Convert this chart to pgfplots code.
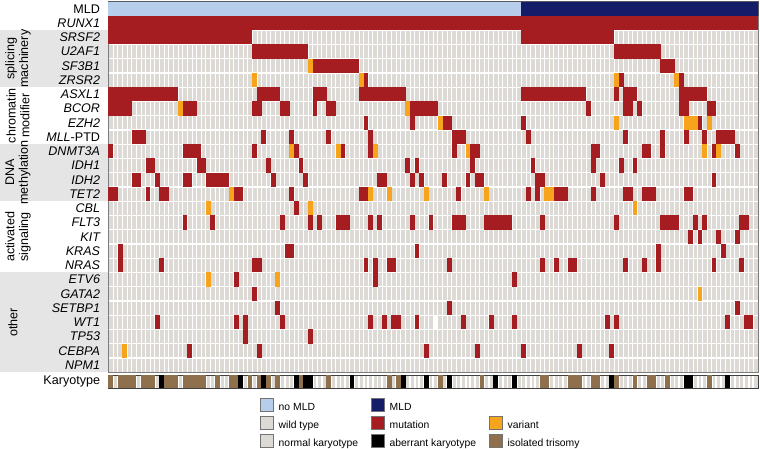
\documentclass[border=0pt]{standalone}
\usepackage{fontspec}
\setmainfont{Liberation Sans}
\usepackage{pgfplots}
\usepackage{pgfplotstable}
\pgfplotsset{compat=1.18}

\definecolor{wt}{RGB}{221,218,214}
\definecolor{mut}{RGB}{165,28,33}
\definecolor{var}{RGB}{247,163,28}
\definecolor{nomld}{RGB}{183,205,236}
\definecolor{mld}{RGB}{20,28,105}
\definecolor{tri}{RGB}{143,112,77}
\definecolor{band}{RGB}{229,229,229}
\definecolor{frame}{RGB}{125,125,125}

\newcommand\lab{\fontsize{12.6}{14}\selectfont}

% one mark per run of cells; \runlen = number of cells, \runh = half row height
\pgfdeclareplotmark{run}{%
  \pgfpathrectangle{\pgfpoint{-\runlen*2.3196bp-0.1bp}{-\runh}}{\pgfpoint{\runlen*4.6393bp+0.2bp}{2*\runh}}%
  \pgfusepathqfill}

\pgfplotsset{
  cells/.style={only marks, mark=run, forget plot, scatter,
    scatter/@pre marker code/.code={\scope}, scatter/@post marker code/.code={\endscope},
    visualization depends on={\thisrow{e}-\thisrow{s}+1 \as \runlen}},
  gridrow/.style={width=649.5bp, scale only axis, xmin=-0.5, xmax=139.5,
    xtick={0.5,1.5,...,138.5}, xticklabels={}, xmajorgrids,
    x grid style={white, line width=0.9bp}, axis on top,
    major tick length=0pt, minor tick length=0pt,
    axis line style={draw=frame, line width=0.7bp},
    yticklabel style={anchor=east, inner sep=0pt, xshift=-8.3bp, font=\lab}},
}

% columns 0-88 no MLD, 89-139 MLD ; rows: gene order from RUNX1 (0) to NPM1 (24)
\pgfplotstableread{
r s e
0 0 88
}\nomldruns
\pgfplotstableread{
r s e
0 89 139
}\mldruns

\pgfplotstableread{
r s e
0 0 139
1 0 30
1 89 108
2 31 42
2 109 118
3 44 53
3 119 121
4 55 55
4 110 110
4 123 123
5 0 14
5 32 36
5 44 46
5 54 63
5 89 102
5 109 109
5 111 113
5 123 128
6 0 4
6 16 18
6 31 32
6 37 38
6 44 44
6 47 48
6 65 70
6 103 103
6 111 112
6 114 114
6 123 124
6 129 130
7 55 55
7 65 65
7 72 73
7 89 89
7 127 127
8 5 7
8 33 33
8 39 39
8 47 47
8 56 56
8 74 76
8 90 90
8 111 111
8 119 119
8 124 124
8 128 128
8 131 134
9 0 0
9 16 19
9 31 31
9 40 40
9 50 50
9 56 56
9 74 74
9 78 79
9 104 105
9 115 116
9 119 119
9 130 130
9 135 135
10 8 9
10 19 20
10 34 34
10 41 41
10 64 64
10 66 66
10 78 78
10 91 91
10 104 104
10 110 110
10 113 113
11 5 6
11 10 10
11 16 17
11 21 25
11 35 35
11 42 42
11 58 59
11 65 65
11 67 67
11 72 72
11 77 77
11 79 80
11 92 93
11 106 106
11 130 130
12 0 1
12 8 8
12 11 12
12 27 28
12 39 39
12 54 55
12 75 75
12 90 90
12 92 92
12 96 98
12 104 104
12 111 112
12 115 117
12 124 125
13 40 40
14 16 16
14 22 22
14 37 37
14 43 43
14 45 45
14 49 51
14 56 56
14 58 58
14 65 65
14 69 69
14 74 76
14 81 86
14 93 93
14 109 109
14 119 122
14 126 126
14 128 128
14 136 137
15 125 125
15 127 127
15 131 131
15 135 135
16 2 2
16 38 39
16 66 66
16 118 118
16 132 132
17 2 2
17 11 11
17 31 32
17 55 55
17 57 57
17 60 61
17 73 73
17 93 93
17 96 96
17 99 100
17 111 111
17 115 115
17 118 118
17 130 130
17 136 136
18 27 27
18 57 57
18 87 87
19 31 31
20 36 36
20 73 73
20 135 135
21 10 10
21 27 27
21 29 29
21 37 37
21 56 56
21 59 59
21 61 62
21 66 66
21 76 76
21 82 82
21 87 87
21 107 107
21 109 109
21 133 133
21 137 138
22 29 29
22 43 43
23 17 17
23 32 32
23 68 68
23 79 79
23 89 89
23 101 101
23 108 108
}\mutation

\pgfplotstableread{
r s e
3 43 43
4 31 31
4 54 54
4 109 109
4 122 122
6 15 15
6 64 64
7 71 71
7 109 109
7 124 126
7 129 129
9 39 39
9 49 49
9 57 57
9 77 77
9 128 128
9 131 131
12 26 26
12 56 56
12 60 60
12 68 68
12 81 81
12 94 95
13 21 21
13 43 43
13 113 113
18 21 21
18 36 36
19 127 127
23 3 3
}\variant

\pgfplotstableread{
r s e
21 70 70
}\missing

% karyotype: isolated trisomy and aberrant karyotype
\pgfplotstableread{
r s e
0 0 0
0 2 5
0 7 9
0 12 14
0 16 20
0 23 23
0 26 27
0 30 30
0 32 32
0 34 34
0 36 36
0 41 41
0 47 47
0 60 60
0 62 62
0 71 71
0 80 80
0 93 94
0 99 101
0 104 105
0 109 109
0 113 113
0 116 117
0 120 120
0 129 129
}\trisomy

\pgfplotstableread{
r s e
0 11 11
0 28 28
0 33 33
0 40 40
0 42 43
0 52 52
0 63 63
0 68 68
0 73 73
0 83 83
0 87 87
0 108 108
0 124 125
0 133 133
}\aberrant

\begin{document}
\begin{tikzpicture}
\useasboundingbox (0,0) rectangle (760bp,-449bp);

% shaded gene groups
\fill[band] (0.5bp,-30.15bp) rectangle (108.5bp,-87.15bp);
\fill[band] (0.5bp,-144.15bp) rectangle (108.5bp,-201.15bp);
\fill[band] (0.5bp,-272.4bp) rectangle (108.5bp,-372.15bp);

\begin{axis}[gridrow, name=top, at={(108.5bp,-1.7bp)}, anchor=north west,
  height=14.2bp, ymin=-0.5, ymax=0.5, ytick={0}, yticklabels={MLD},
  axis line style={draw=black!65, line width=0.8bp}]
  \def\runh{7.2bp}
  \addplot[cells, color=nomld] table[x expr={(\thisrow{s}+\thisrow{e})/2}, y=r] {\nomldruns};
  \addplot[cells, color=mld] table[x expr={(\thisrow{s}+\thisrow{e})/2}, y=r] {\mldruns};
\end{axis}

\begin{axis}[gridrow, name=genes, at={(108.5bp,-15.9bp)}, anchor=north west,
  height=356.25bp, ymin=-0.5, ymax=24.5, y dir=reverse,
  axis background/.style={fill=wt},
  minor ytick={0.5,1.5,...,23.5}, yminorgrids,
  y grid style={white, line width=1.3bp},
  ytick={0,...,24},
  yticklabel style={font=\lab\itshape},
  yticklabels={RUNX1,SRSF2,U2AF1,SF3B1,ZRSR2,ASXL1,BCOR,EZH2,MLL{\upshape-PTD},
    DNMT3A,IDH1,IDH2,TET2,CBL,FLT3,KIT,KRAS,NRAS,ETV6,GATA2,SETBP1,WT1,TP53,CEBPA,NPM1}]
  \def\runh{7.2bp}
  \addplot[cells, color=mut] table[x expr={(\thisrow{s}+\thisrow{e})/2}, y=r] {\mutation};
  \addplot[cells, color=var] table[x expr={(\thisrow{s}+\thisrow{e})/2}, y=r] {\variant};
  \addplot[cells, color=white] table[x expr={(\thisrow{s}+\thisrow{e})/2}, y=r] {\missing};
\end{axis}

\begin{axis}[gridrow, name=karyo, at={(108.5bp,-375bp)}, anchor=north west,
  height=13.3bp, ymin=-0.5, ymax=0.5, ytick={0}, yticklabels={Karyotype},
  axis background/.style={fill=wt},
  x grid style={white, line width=1.8bp},
  axis line style={draw=black!75, line width=1bp},
  legend columns=3, legend cell align=left,
  legend image code/.code={\draw[#1, draw=black!55, line width=0.5bp] (0bp,-6.3bp) rectangle (13bp,6.3bp);},
  legend style={at={(0.2333,-0.74)}, anchor=north west, draw=none, fill=none,
    inner sep=0pt, font=\fontsize{10.4}{12}\selectfont, row sep=3.3bp,
    nodes={inner sep=1bp},
    /tikz/every odd column/.append style={column sep=4bp},
    /tikz/every even column/.append style={column sep=12bp, nodes={yshift=2.8bp}}}]
  \def\runh{6.7bp}
  \addplot[cells, color=tri] table[x expr={(\thisrow{s}+\thisrow{e})/2}, y=r] {\trisomy};
  \addplot[cells, color=black] table[x expr={(\thisrow{s}+\thisrow{e})/2}, y=r] {\aberrant};
  \addlegendimage{fill=nomld}\addlegendentry{no MLD}
  \addlegendimage{fill=mld}\addlegendentry{MLD}
  \addlegendimage{empty legend}\addlegendentry{}
  \addlegendimage{fill=wt}\addlegendentry{wild type}
  \addlegendimage{fill=mut}\addlegendentry{mutation}
  \addlegendimage{fill=var}\addlegendentry{variant}
  \addlegendimage{fill=wt}\addlegendentry{normal karyotype}
  \addlegendimage{fill=black}\addlegendentry{aberrant karyotype}
  \addlegendimage{fill=tri}\addlegendentry{isolated trisomy}
\end{axis}

% group names
\node[rotate=90, align=center, font=\lab] at (18bp,-58.65bp) {splicing\\machinery};
\node[rotate=90, align=center, font=\lab] at (18bp,-115.65bp) {chromatin\\modifier};
\node[rotate=90, align=center, font=\lab] at (18bp,-172.65bp) {DNA\\methylation};
\node[rotate=90, align=center, font=\lab] at (18bp,-236.8bp) {activated\\signaling};
\node[rotate=90, align=center, font=\lab] at (13bp,-322.3bp) {other};
\end{tikzpicture}
\end{document}
